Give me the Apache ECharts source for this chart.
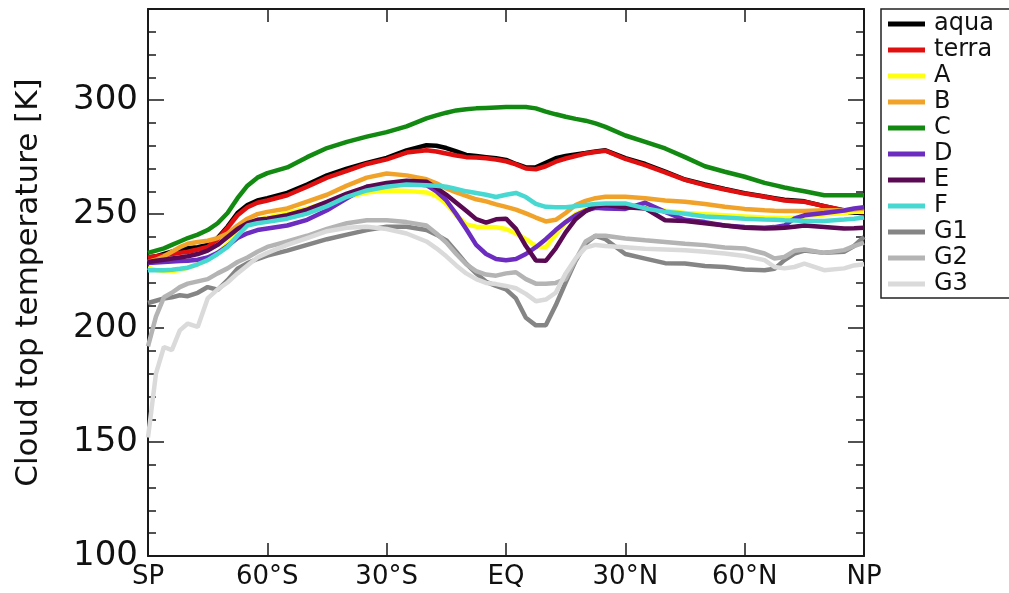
<!DOCTYPE html>
<html>
<head>
<meta charset="utf-8">
<script src="https://cdn.jsdelivr.net/npm/echarts@6.0.0/dist/echarts.min.js"></script>
<style>
html,body{margin:0;padding:0;background:#fff;}
#chart{width:1009px;height:593px;}
</style>
</head>
<body>
<div id="chart"></div>
<script>
// Latitude grid (degrees, SP = -90, NP = 90)
const lat = [-90,-88,-86,-84,-82,-80,
  -77.5,-75,-72.5,-70,-67.5,-65,-62.5,-60,
  -55,-50,-45,-40,-35,-30,-25,-20,
  -17.5,-15,-12.5,-10,-7.5,-5,-2.5,0,
  2.5,5,7.5,10,12.5,15,17.5,20,
  22.5,25,30,35,40,45,50,55,60,
  65,67.5,70,72.5,75,80,85,87.5,90];

const aqua = [231,231.5,232.5,233.5,234.5,235,
  235.5,236.5,239.5,244.5,250.5,254,256,257,
  259.3,263,267,270,272.5,274.7,278,280.2,
  280,279,277.5,276,275.5,275,274.5,273.8,
  272,270.5,270.5,272.5,274.5,275.5,276.2,276.8,
  277.5,278,274.6,272,268.7,265.2,263,261,259.2,
  257.7,257,256.3,256,255.6,253.5,251.5,250.8,250.3];

const terra = [231,231.5,232,232.5,233,233.5,
  234.5,235.6,239,244,249.5,253,255,256,
  258.3,262,266,269,272,274,277,278,
  277.5,276.6,275.7,275,274.8,274.5,274,273.2,
  271.8,270,269.7,271,273,274.4,275.5,276.6,
  277.3,277.8,274.2,271.5,268.3,265,262.7,260.8,259,
  257.6,256.8,256,255.7,255.4,253.5,251.7,251.2,250.8];

const seriesA = [226.5,225.5,225,225,225.5,226.5,
  228,230,233,237,242,245.5,247.5,248.5,
  250.5,252.5,255,257.5,259.5,260.4,260.2,259.5,
  258,254.5,249.5,245.5,244.5,244.4,244.2,243.5,
  241.5,239,236,235.5,241,246.5,250,252,
  253.3,254,254,253,251.5,250.5,250,249.5,249,
  248.5,248.4,248.3,248.5,249,249.8,250.5,251,251];

const seriesB = [229,230,231.5,233.5,235.5,237,
  237.8,238.3,239.5,241.5,245,248,250,251,
  252.5,255.5,258.5,262.5,266,267.8,267,265.3,
  263.5,261.3,259.5,258,256.5,255.6,254.3,253.2,
  252,250.3,248.5,246.8,247.5,250.5,254,255.8,
  257,257.6,257.6,257,256,255.4,254.4,253.2,252.3,
  251.7,251.5,251.4,251.4,251.4,251.7,251.7,252,252.5];

const seriesC = [233,234,235,236.5,238,239.5,
  241,243,246,250.5,257,262.5,266,268,
  270.5,275,279,281.7,284,286,288.5,292,
  293.3,294.5,295.5,296,296.4,296.6,296.8,297,
  297,297,296.4,295,293.8,292.7,291.8,291,
  289.8,288.3,284.5,281.7,278.8,275,271,268.6,266.4,
  263.7,262.7,261.7,260.8,260,258.3,258.3,258.3,258.3];

const seriesD = [228.5,228.8,229,229.2,229.4,229.5,
  230,231,233,236,239.5,241.6,243,243.7,
  245,247.5,251.7,256.9,262,262.7,263.5,262.7,
  260,256,250,243.5,236.5,232.5,230.3,229.8,
  230.3,232.5,235.5,239,243,246.5,249.5,251.5,
  252.8,252.5,252.3,255,251,247.5,246.5,245,244.4,
  244,244.3,245,248,249.5,250.5,251.6,252.5,253];

const seriesE = [229,229.5,230,230.5,231,231.5,
  232.5,234,236.5,240,243.5,246,247.5,248,
  249.5,252,255.4,259,262,263.7,264.6,264.2,
  261.5,258.5,255,251.5,247.8,246.3,247.7,248,
  243.5,236,229.7,229.5,235,242,247.8,251.3,
  253.5,254,253,252.5,247.3,247,246,245,244,
  243.7,243.8,244,244.5,245,244.4,243.7,243.8,244];

const seriesF = [225.4,225.4,225.4,225.6,226,226.5,
  228,229.8,232.5,235.6,240.5,245,246,246.6,
  248,250.2,253.5,257.6,260.4,262,263,262.7,
  262.4,262,261,260,259.3,258.5,257.5,258.5,
  259.3,257.5,254.5,253.2,253,253,253.5,254,
  254.4,254.7,254.7,252.5,251,250.2,249,248.5,248,
  247.6,247.5,247.3,247.2,247,247,247.6,248,248.5];

const seriesG1 = [211,212,213,213.5,214.4,214,
  215.5,218,216.8,221,226,228.5,230.3,231.8,
  234,236.5,239,241,243,244.5,244.5,243,
  241,238.5,233.5,228.3,224,220.3,218.5,217,
  213,204.5,201.2,201.2,210,220,229.5,237,
  240.5,239,232.5,230.5,228.5,228.3,227.2,226.8,225.7,
  225.4,226,229.8,232.7,234,233,233.5,236,240];

const seriesG2 = [192,205,213.5,215.5,218,219.5,
  220.5,221.5,224,226.2,229,231,233.5,235.6,
  238,240.5,243.5,246,247.3,247.3,246.5,245,
  241.5,237.5,232.5,228,225,223.5,223,224,
  224.5,221.5,219.5,219.5,219.8,221.5,230,238,
  240.5,240.5,239.3,238.5,237.8,237,236.4,235.4,234.9,
  232.7,230.5,231.2,233.9,234.5,233,234.2,236,237.5];

const seriesG3 = [152,180,191.7,190.3,199,202,
  200.5,213,217,220,224,227.5,231,233,
  236.5,239.5,242.5,244,244.5,243.5,241.5,238,
  235,231.5,227.5,224,221.5,219.8,219.3,218.5,
  217.5,215,211.8,212.5,215.5,224,230.5,235.3,
  236.5,236,235.5,234.8,234.5,234.2,233.5,232.7,231.6,
  229.8,226.8,226.2,226.8,228.3,225.4,226.2,227.5,228];

const seriesNames = ['aqua','terra','A','B','C','D','E','F','G1','G2','G3'];
const seriesValues = [aqua,terra,seriesA,seriesB,seriesC,seriesD,seriesE,seriesF,seriesG1,seriesG2,seriesG3];
const seriesColors = ['#000000','#e01010','#ffff10','#f0a328','#128a12','#6c2cc0','#5a0a52','#48d8d2','#858585','#b4b4b4','#dadada'];

const xTickValues = [-90,-60,-30,0,30,60,90];
const xTickLabels = ['SP','60°S','30°S','EQ','30°N','60°N','NP'];

const FONT = 'DejaVu Sans';
const AX = '#1a1a1a';

const chart = echarts.init(document.getElementById('chart'), null, {renderer:'canvas'});

const series = seriesNames.map((name, k) => ({
  name: name,
  type: 'line',
  xAxisIndex: 0,
  yAxisIndex: 0,
  data: lat.map((x, i) => [x, seriesValues[k][i]]),
  showSymbol: false,
  symbol: 'none',
  smooth: false,
  color: seriesColors[k],
  lineStyle: {width: 4.5, color: seriesColors[k]},
  itemStyle: {color: seriesColors[k]},
  emphasis: {disabled: true},
  animation: false
}));

function yAxisCfg(position, major, labels) {
  return {
    type: 'value',
    position: position,
    min: 100, max: 340,
    interval: major ? 50 : 10,
    gridIndex: 0,
    axisLine: {show: major, onZero: false, lineStyle: {color: AX, width: 2}},
    axisTick: {show: true, inside: true, length: major ? 16 : 8, lineStyle: {color: AX, width: 1.5}},
    axisLabel: labels ? {
      show: true, fontSize: 34, fontFamily: FONT, color: '#111', margin: 10,
      formatter: v => (v % 50 === 0 && v <= 300) ? String(v) : ''
    } : {show: false},
    splitLine: {show: false},
    name: labels ? 'Cloud top temperature [K]' : '',
    nameLocation: 'middle',
    nameGap: 104,
    nameTextStyle: {fontSize: 31, fontFamily: FONT, color: '#111'}
  };
}

function xAxisCfg(position, labels) {
  return {
    type: 'value',
    position: position,
    min: -90, max: 90, interval: 30,
    gridIndex: 0,
    axisLine: {show: true, onZero: false, lineStyle: {color: AX, width: 2}},
    axisTick: {show: true, inside: true, length: 13, lineStyle: {color: AX, width: 1.5}},
    axisLabel: labels ? {
      show: true, fontSize: 26, fontFamily: FONT, color: '#111', margin: 8,
      formatter: v => { const i = xTickValues.indexOf(v); return i >= 0 ? xTickLabels[i] : ''; }
    } : {show: false},
    splitLine: {show: false}
  };
}

chart.setOption({
  animation: false,
  backgroundColor: '#ffffff',
  grid: {left: 148, top: 9, width: 716, height: 547, containLabel: false},
  xAxis: [xAxisCfg('bottom', true), xAxisCfg('top', false)],
  yAxis: [yAxisCfg('left', true, true), yAxisCfg('right', true, false),
          yAxisCfg('left', false, false), yAxisCfg('right', false, false)],
  legend: {
    orient: 'vertical',
    left: 881, top: 9,
    padding: [2, 40, 1, 7],
    itemWidth: 37, itemHeight: 5, itemGap: 0,
    icon: 'rect',
    borderColor: '#222', borderWidth: 1.5,
    backgroundColor: '#fff',
    selectedMode: false,
    textStyle: {fontSize: 24, lineHeight: 26, fontFamily: FONT, color: '#111', padding: [0,0,0,4]},
    data: seriesNames
  },
  series: series
});
</script>
</body>
</html>
